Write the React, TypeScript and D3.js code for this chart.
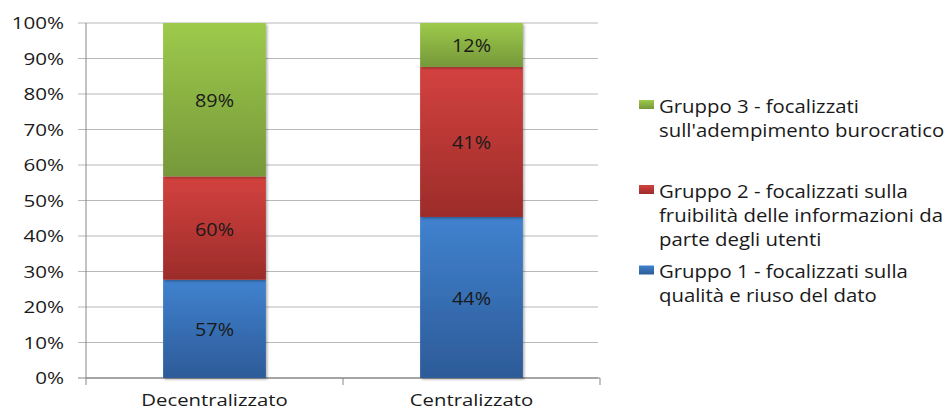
import React from "react";
import * as d3 from "d3";

const categories = ["Decentralizzato", "Centralizzato"];
const seriesNames = [
  "Gruppo 1 - focalizzati sulla qualità e riuso del dato",
  "Gruppo 2 - focalizzati sulla fruibilità delle informazioni da parte degli utenti",
  "Gruppo 3 - focalizzati sull'adempimento burocratico",
];
const legendLines = [
  ["Gruppo 1 - focalizzati sulla", "qualità e riuso del dato"],
  ["Gruppo 2 - focalizzati sulla", "fruibilità delle informazioni da", "parte degli utenti"],
  ["Gruppo 3 - focalizzati", "sull'adempimento burocratico"],
];
const gruppo1 = [57, 44];
const gruppo2 = [60, 41];
const gruppo3 = [89, 12];
const yTicks = [0, 0.1, 0.2, 0.3, 0.4, 0.5, 0.6, 0.7, 0.8, 0.9, 1];

const colorsTop = ["#4082CF", "#D3423F", "#9DCA4B"];
const colorsBottom = ["#2D5B98", "#9C2C2A", "#76983A"];

const W = 948;
const H = 412;
const FONT = "'Open Sans', sans-serif";

function T({ x, y, anchor = "start", size = 16, sx = 1.28, fill = "#1a1a1a", children }: any) {
  return (
    <text
      transform={`translate(${x},${y}) scale(${sx},1)`}
      textAnchor={anchor}
      fontFamily={FONT}
      fontSize={size}
      fill={fill}
    >
      {children}
    </text>
  );
}

export default function App() {
  const left = 86;
  const right = 600;
  const top = 23;
  const bottom = 378;

  const x = d3
    .scaleBand<string>()
    .domain(categories)
    .range([left, right])
    .paddingInner(0.6)
    .paddingOuter(0.3);
  const y = d3.scaleLinear().domain([0, 1]).range([bottom, top]);

  const rows = categories.map((c, i) => ({
    cat: c,
    s0: gruppo1[i],
    s1: gruppo2[i],
    s2: gruppo3[i],
  }));
  const stack = d3
    .stack<any>()
    .keys(["s0", "s1", "s2"])
    .offset(d3.stackOffsetExpand);
  const series = stack(rows);

  const fmt = d3.format(".0%");
  const step = (right - left) / categories.length;

  const legendX = 639;
  const legendTextX = 659;
  const legendCenters = [270, 189.5, 104.5];
  const lineH = 24.3;

  return (
    <div style={{ position: "absolute", left: 0, top: 0 }}>
      <svg width={W} height={H} style={{ display: "block", background: "#fff" }}>
        <defs>
          {colorsTop.map((c, i) => (
            <linearGradient key={i} id={`g${i}`} x1="0" y1="0" x2="0" y2="1">
              <stop offset="0" stopColor={c} />
              <stop offset="1" stopColor={colorsBottom[i]} />
            </linearGradient>
          ))}
          <filter id="sh" x="-10%" y="-10%" width="130%" height="130%">
            <feDropShadow dx="1.5" dy="1.5" stdDeviation="1.2" floodColor="#000" floodOpacity="0.3" />
          </filter>
        </defs>

        {/* gridlines */}
        {yTicks.map((t) => (
          <line
            key={t}
            x1={left - 8}
            x2={right - 2}
            y1={y(t)}
            y2={y(t)}
            stroke={t === 0 ? "#868686" : "#B8B8B8"}
            strokeWidth={1}
          />
        ))}
        {/* y axis */}
        <line x1={left} x2={left} y1={top} y2={bottom + 7} stroke="#868686" strokeWidth={1} />
        {/* x axis */}
        <line x1={left} x2={right} y1={bottom} y2={bottom} stroke="#868686" strokeWidth={1} />
        {categories.map((c, i) => (
          <line
            key={c}
            x1={left + step * (i + 1)}
            x2={left + step * (i + 1)}
            y1={bottom}
            y2={bottom + 7}
            stroke="#868686"
            strokeWidth={1}
          />
        ))}

        {yTicks.map((t) => (
          <T key={t} x={64} y={y(t) + 6.3} anchor="end" size={15.5} sx={1.33}>
            {fmt(t)}
          </T>
        ))}

        {/* bars */}
        {series.map((s, si) =>
          s.map((d, ci) => {
            const bx = x(categories[ci])!;
            const y0 = y(d[0]);
            const y1 = y(d[1]);
            return (
              <rect
                key={`${si}-${ci}`}
                x={bx}
                y={y1}
                width={x.bandwidth()}
                height={y0 - y1}
                fill={`url(#g${si})`}
                filter="url(#sh)"
              />
            );
          })
        )}
        {series.map((s, si) =>
          s.map((d, ci) => {
            const bx = x(categories[ci])! + x.bandwidth() / 2;
            const cy = (y(d[0]) + y(d[1])) / 2;
            const raw = [gruppo1, gruppo2, gruppo3][si][ci];
            return (
              <T key={`l${si}-${ci}`} x={bx} y={cy + 7.5} anchor="middle" size={18} sx={1.1}>
                {`${raw}%`}
              </T>
            );
          })
        )}

        {categories.map((c) => (
          <T key={c} x={x(c)! + x.bandwidth() / 2} y={406} anchor="middle" size={16.5} sx={1.23}>
            {c}
          </T>
        ))}

        {/* legend */}
        {seriesNames.map((n, i) => (
          <g key={n}>
            <rect
              x={legendX}
              y={legendCenters[i] - 4.5}
              width={15}
              height={9}
              fill={`url(#g${i})`}
            />
            {legendLines[i].map((ln, li) => (
              <T key={li} x={legendTextX} y={legendCenters[i] + 8 + li * lineH} size={18.5} sx={1.1}>
                {ln}
              </T>
            ))}
          </g>
        ))}
      </svg>
    </div>
  );
}
